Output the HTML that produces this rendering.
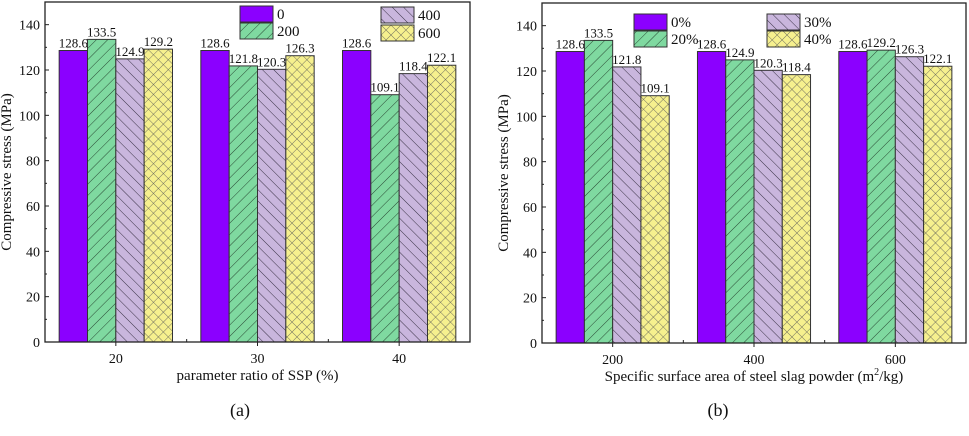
<!DOCTYPE html>
<html><head><meta charset="utf-8">
<style>
body{margin:0;background:#fff;width:969px;height:436px;overflow:hidden}
svg{display:block}
text{font-family:"Liberation Serif",serif;fill:#111}
</style></head>
<body>
<svg id="chart" width="969" height="436">
<defs>
<pattern id="pg" width="8" height="8" patternUnits="userSpaceOnUse" patternTransform="rotate(45)"><rect width="8" height="8" fill="#7fd9a0"/><line x1="0" y1="0" x2="0" y2="8" stroke="#2a4a35" stroke-width="1"/></pattern>
<pattern id="pl" width="8" height="8" patternUnits="userSpaceOnUse" patternTransform="rotate(-45)"><rect width="8" height="8" fill="#c9b6dd"/><line x1="0" y1="0" x2="0" y2="8" stroke="#3a3346" stroke-width="1"/></pattern>
<pattern id="py" width="7" height="7" patternUnits="userSpaceOnUse" patternTransform="rotate(45)"><rect width="7" height="7" fill="#f6f08e"/><line x1="0" y1="0" x2="0" y2="7" stroke="#555" stroke-width="0.8"/><line x1="0" y1="0" x2="7" y2="0" stroke="#555" stroke-width="0.8"/></pattern>
</defs>
</svg>
<script>
const fills=['#8b00ff','url(#pg)','url(#pl)','url(#py)'];
// Chart (a)
const catsA=[20,30,40];
const legA=['0','200','400','600'];
const valsA=[[128.6,128.6,128.6],[133.5,121.8,109.1],[124.9,120.3,118.4],[129.2,126.3,122.1]];
// Chart (b)
const catsB=[200,400,600];
const legB=['0%','20%','30%','40%'];
const valsB=[[128.6,128.6,128.6],[133.5,124.9,129.2],[121.8,120.3,126.3],[109.1,118.4,122.1]];
const yTicks=[0,20,40,60,80,100,120,140];

const svg=document.getElementById('chart');
const NS='http://www.w3.org/2000/svg';
function mk(tag,attrs,parent,txt){const e=document.createElementNS(NS,tag);for(const k in attrs)e.setAttribute(k,attrs[k]);if(txt!==undefined)e.textContent=txt;(parent||svg).appendChild(e);return e;}

function draw(cfg){
  const g=mk('g',{});
  
  
  const {L,R,T,B,xmin,xmax,ymax}=cfg;
  const X=v=>L+(v-xmin)/(xmax-xmin)*(R-L);
  const Y=v=>B-v/ymax*(B-T);
  const step=X(cfg.cats[1])-X(cfg.cats[0]);
  const bw=step*0.8/4;
  cfg.vals.forEach((ser,si)=>{
    ser.forEach((v,ci)=>{
      const x=X(cfg.cats[ci])-2*bw+si*bw;
      const r=mk('rect',{x:x,y:Y(v),width:bw,height:B-Y(v),fill:fills[si],stroke:'#333','stroke-width':1},g);
      
      
      const t=mk('text',{x:x+bw/2,y:Y(v)-3,'text-anchor':'middle','font-size':13},g,v.toFixed(1));
      
      
    });
  });
  const ax=mk('rect',{x:L,y:T,width:R-L,height:B-T,fill:'none',stroke:'#222','stroke-width':1.3},g);
  
  
  yTicks.forEach(v=>{
    mk('line',{x1:L,x2:L+4,y1:Y(v),y2:Y(v),stroke:'#222'},g);
    mk('line',{x1:L,x2:L+2,y1:Y(v+10),y2:Y(v+10),stroke:'#222'},g);
    const t=mk('text',{x:L-5,y:Y(v)+5,'text-anchor':'end','font-size':14},g,v);
    
    
  });
  cfg.cats.forEach((c,i)=>{
    mk('line',{x1:X(c),x2:X(c),y1:B,y2:B+4,stroke:'#222'},g);
    if(i<cfg.cats.length-1){const m=(X(c)+X(cfg.cats[i+1]))/2;mk('line',{x1:m,x2:m,y1:B,y2:B-3,stroke:'#222'},g);}
    const t=mk('text',{x:X(c),y:B+21,'text-anchor':'middle','font-size':14},g,c);
    
    
  });
  const yt=mk('text',{x:0,y:0,'text-anchor':'middle','font-size':15,transform:`translate(${L-34},${(T+B)/2}) rotate(-90)`},g,'Compressive stress (MPa)');
  
  
  const xt=mk('text',{x:(L+R)/2,y:B+38,'text-anchor':'middle','font-size':15},g);
  xt.innerHTML=cfg.xtitle;
  
  
  cfg.legPos.forEach((p,si)=>{
    const lr=mk('rect',{x:p[0],y:p[1],width:33,height:16,fill:fills[si],stroke:'#333'},g);
    
    
    const lt=mk('text',{x:p[0]+37,y:p[1]+13,'font-size':15},g,cfg.legend[si]);
    
    
  });
  const cap=mk('text',{x:cfg.capX,y:416,'text-anchor':'middle','font-size':18},g,cfg.cap);
  
  
}
draw({name:'chart-a',L:45,R:470,T:2,B:342,xmin:15,xmax:45,ymax:150,cats:catsA,vals:valsA,legend:legA,
  legPos:[[240,6],[240,23],[381,7],[381,25]],xtitle:'parameter ratio of SSP (%)',cap:'(a)',capX:240});
draw({name:'chart-b',L:542,R:966,T:3,B:343,xmin:100,xmax:700,ymax:150,cats:catsB,vals:valsB,legend:legB,
  legPos:[[634,14],[634,31],[767,14],[767,31]],xtitle:'Specific surface area of steel slag powder (m<tspan font-size="10" dy="-6">2</tspan><tspan dy="6">/kg)</tspan>',cap:'(b)',capX:718});
</script>
</body></html>
